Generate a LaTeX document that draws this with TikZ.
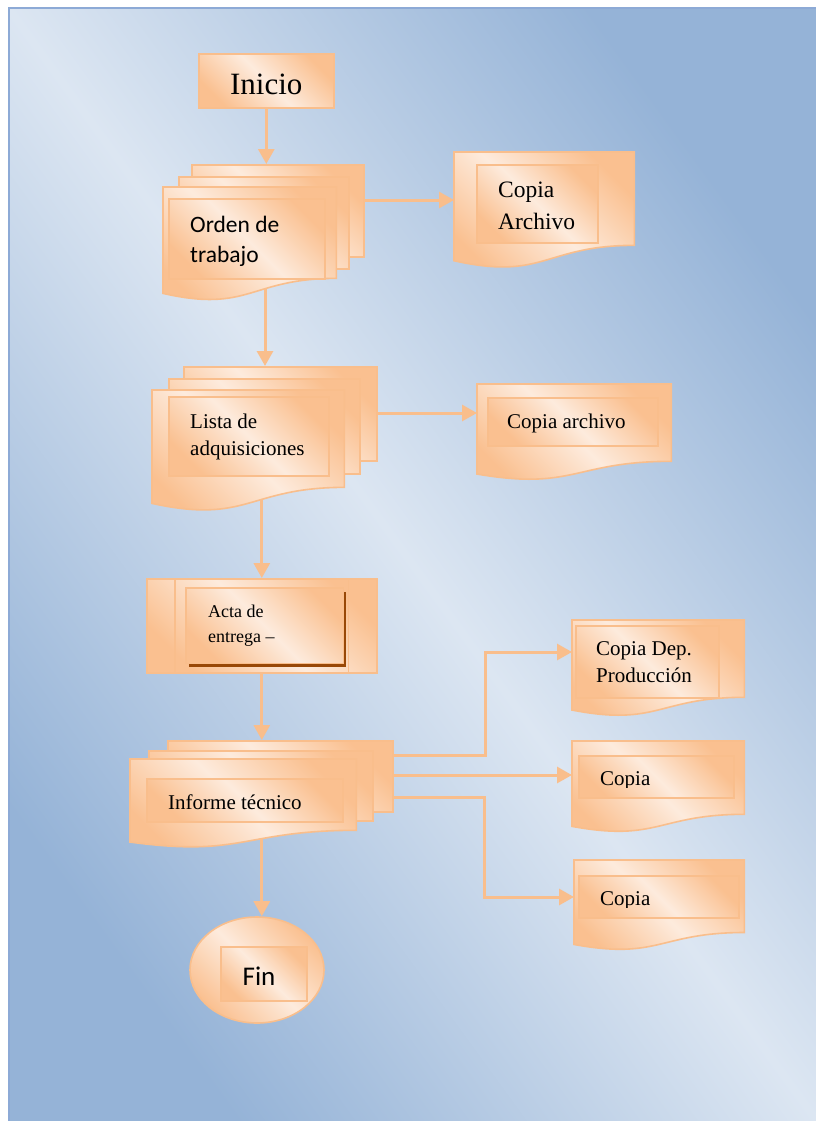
\documentclass[tikz,border=0pt]{standalone}
\usepackage{fontspec}
\setmainfont{Liberation Serif}
\newfontfamily\calib{Carlito}
\usetikzlibrary{arrows.meta,calc,shapes.geometric}

\definecolor{bglight}{HTML}{DCE6F2}
\definecolor{bgdark}{HTML}{95B3D7}
\definecolor{bgedge}{HTML}{8DAAD6}
\definecolor{orng}{HTML}{FAC090}
\definecolor{pale}{HTML}{FDEBDD}
\definecolor{edgeor}{HTML}{F9BE8C}
\definecolor{shadowbrown}{HTML}{984807}

\pgfdeclarelayer{bg}
\pgfdeclarelayer{wires}
\pgfsetlayers{bg,wires,main}

% document outline with a wavy lower edge, built on a frame node
\newcommand\docpath[1]{(#1.north west) -- (#1.north east) -- ($(#1.north east)!0.802!(#1.south east)$) .. controls ($(#1.north)!0.802!(#1.south)$) and ($(#1.north)!1.108!(#1.south)$) .. ($(#1.north west)!0.934!(#1.south west)$) -- cycle}

\tikzset{
  warm/.style={top color=orng, bottom color=orng, middle color=pale, shading angle=-45},
  sheet/.style={rectangle, anchor=north west, inner sep=0pt, draw=edgeor, line width=1.6pt, warm},
  frame/.style={rectangle, anchor=north west, inner sep=0pt},
  docstyle/.style={draw=edgeor, line width=1.6pt, warm},
  txt/.style={anchor=base west, inner sep=0pt, align=left},
  conn/.style={draw=edgeor, line width=3pt, -{Triangle[width=16pt,length=15pt]}},
}

\begin{document}
\begin{tikzpicture}[x=1pt,y=-1pt]
\useasboundingbox (0,0) rectangle (816,1121);

% page background
\begin{pgfonlayer}{bg}
  \fill[white] (0,0) rectangle (816,1121);
  \shade[top color=bgdark, bottom color=bgdark, middle color=bglight, shading angle=-54] (9,8) rectangle (816,1121);
  \draw[bgedge, line width=1.5pt] (9,1121) -- (9,8) -- (816,8);
\end{pgfonlayer}

% ---------- start
\node[sheet, minimum width=135pt, minimum height=54pt, font=\fontsize{31}{36}\selectfont,
      text height=28pt, text depth=0pt] (inicio) at (198,53) {Inicio};

% ---------- work order (three sheets)
\node[sheet, minimum width=172pt, minimum height=92pt] (orden1) at (191,164) {};
\node[sheet, minimum width=170pt, minimum height=92pt] (orden2) at (178,176) {};
\node[frame, minimum width=173pt, minimum height=113.5pt] (orden3) at (163,187) {};
\shadedraw[docstyle] \docpath{orden3};
\node[sheet, minimum width=156pt, minimum height=80pt] (ordenin) at (168,198) {};
\node[txt, font=\calib\fontsize{23.5}{30}\selectfont] (ordent) at (190,262) {Orden de\\trabajo};

% ---------- archive copy
\node[frame, minimum width=180pt, minimum height=116pt] (copia1) at (454,152) {};
\shadedraw[docstyle] \docpath{copia1};
\node[sheet, minimum width=121pt, minimum height=78pt] (copia1in) at (476,164) {};
\node[txt, font=\fontsize{23.5}{32}\selectfont] (copia1t) at (498,229) {Copia\\Archivo};

% ---------- purchase list (three sheets)
\node[sheet, minimum width=193pt, minimum height=94pt] (lista1) at (183,366) {};
\node[sheet, minimum width=191pt, minimum height=95pt] (lista2) at (168,378) {};
\node[frame, minimum width=192pt, minimum height=121pt] (lista3) at (152,390) {};
\shadedraw[docstyle] \docpath{lista3};
\node[sheet, minimum width=160pt, minimum height=79pt] (listain) at (168,396) {};
\node[txt, font=\fontsize{21}{27}\selectfont] (listat) at (190,455) {Lista de\\adquisiciones};

% ---------- archive copy of the list
\node[frame, minimum width=194pt, minimum height=96pt] (copia2) at (477,384) {};
\shadedraw[docstyle] \docpath{copia2};
\node[sheet, minimum width=170pt, minimum height=48pt] (copia2in) at (487,397) {};
\node[txt, font=\fontsize{21}{27}\selectfont] (copia2t) at (507,428) {Copia archivo};

% ---------- delivery record (predefined process)
\node[sheet, minimum width=230pt, minimum height=94pt] (acta) at (146,578) {};
\draw[edgeor, line width=1.6pt] ($(acta.north west)!0.125!(acta.north east)$) -- ($(acta.south west)!0.125!(acta.south east)$);
\draw[edgeor, line width=1.6pt] ($(acta.north west)!0.875!(acta.north east)$) -- ($(acta.south west)!0.875!(acta.south east)$);
\node[frame, minimum width=157pt, minimum height=75pt] (actain) at (186,588) {};
\fill[shadowbrown] ($(actain.north west)+(3,4)$) rectangle ($(actain.south east)+(3,4)$);
\shadedraw[docstyle] (actain.north west) rectangle (actain.south east);
\node[txt, font=\fontsize{18}{25}\selectfont] (actat) at (208,642) {Acta de\\entrega --};

% ---------- technical report (three sheets)
\node[sheet, minimum width=225pt, minimum height=71pt] (inf1) at (167,740) {};
\node[sheet, minimum width=224pt, minimum height=70pt] (inf2) at (148,750) {};
\node[frame, minimum width=226pt, minimum height=88.5pt] (inf3) at (130,759) {};
\shadedraw[docstyle] \docpath{inf3};
\node[sheet, minimum width=196pt, minimum height=43pt] (infin) at (146,778) {};
\node[txt, font=\fontsize{21}{27}\selectfont] (inft) at (168,809) {Informe técnico};

% ---------- production copy
\node[frame, minimum width=172pt, minimum height=96pt] (dep) at (572,620) {};
\shadedraw[docstyle] \docpath{dep};
\node[sheet, minimum width=143pt, minimum height=72pt] (depin) at (575,625) {};
\node[txt, font=\fontsize{21}{27}\selectfont] (dept) at (596,682) {Copia Dep.\\Producción};

% ---------- further copies
\node[frame, minimum width=172pt, minimum height=91pt] (copia3) at (572,741) {};
\shadedraw[docstyle] \docpath{copia3};
\node[sheet, minimum width=155pt, minimum height=42pt] (copia3in) at (578,755) {};
\begin{scope}
  \clip (578,755) rectangle (733,787);
  \node[txt, font=\fontsize{21}{27}\selectfont] (copia3t) at (600,785) {Copia};
\end{scope}

\node[frame, minimum width=170pt, minimum height=90pt] (copia4) at (574,860) {};
\shadedraw[docstyle] \docpath{copia4};
\node[sheet, minimum width=160pt, minimum height=42pt] (copia4in) at (578,875) {};
\begin{scope}
  \clip (578,875) rectangle (738,907);
  \node[txt, font=\fontsize{21}{27}\selectfont] (copia4t) at (600,905) {Copia};
\end{scope}

% ---------- end
\node[ellipse, draw=edgeor, line width=1.6pt, warm, minimum width=134pt, minimum height=106pt, inner sep=0pt] (fin) at (257,970) {};
\node[sheet, minimum width=86pt, minimum height=54pt] (finin) at (220,946) {};
\node[anchor=base, inner sep=0pt, font=\calib\fontsize{27}{32}\selectfont] (fint) at (259,985) {Fin};

% ---------- connectors
\begin{pgfonlayer}{wires}
  \draw[conn] (inicio.south) -- (inicio.south |- orden1.north);
  \draw[conn] ($(orden1.north east)+(0,36)$) -- ($(copia1.north west)+(0,48)$);
  \draw[conn] ($(orden3.north west)+(102,60)$) -- ($(lista1.north west)+(82,0)$);
  \draw[conn] ($(lista1.north east)+(0,47)$) -- ($(copia2.north west)+(0,29)$);
  \draw[conn] (lista3.center -| acta.north) -- (acta.north);
  \draw[conn] (acta.south) -- (acta.south |- inf1.north);
  \draw[conn] ($(inf1.north east)+(0,15)$) -| ($(dep.north west)+(-87,32)$) -- ($(dep.north west)+(0,32)$);
  \draw[conn] ($(inf1.north east)+(0,35)$) -- ($(copia3.north west)+(0,34)$);
  \draw[conn] ($(inf1.north east)+(0,57)$) -| ($(copia4.north west)+(-90,37)$) -- ($(copia4.north west)+(0,37)$);
  \draw[conn] (inf3.center -| acta.south) -- (fin.north -| acta.south);
\end{pgfonlayer}
\end{tikzpicture}
\end{document}
